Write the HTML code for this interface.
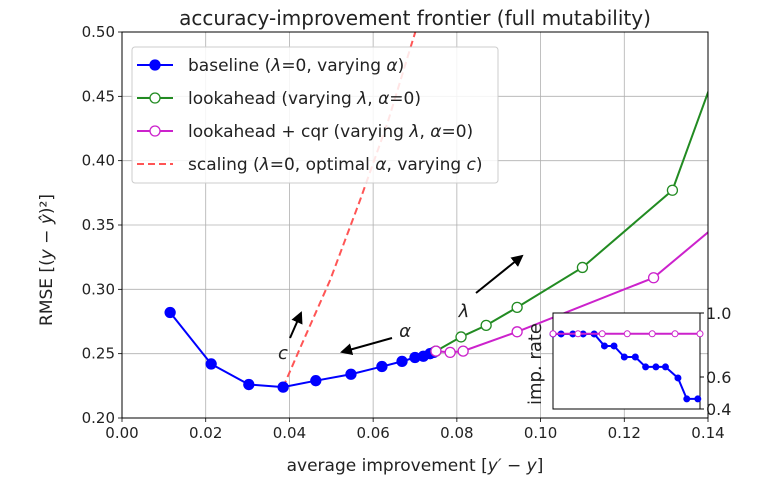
<!DOCTYPE html>
<html><head><meta charset="utf-8"><style>
body{margin:0;background:#fff}
svg{font-family:"DejaVu Sans","Liberation Sans",sans-serif}
</style></head><body>
<svg id="c" width="770" height="498" xmlns="http://www.w3.org/2000/svg"></svg>
<script>
const xTicks=[0,0.02,0.04,0.06,0.08,0.10,0.12,0.14];
const xTickLabels=["0.00","0.02","0.04","0.06","0.08","0.10","0.12","0.14"];
const yTicks=[0.20,0.25,0.30,0.35,0.40,0.45,0.50];
const yTickLabels=["0.20","0.25","0.30","0.35","0.40","0.45","0.50"];
const baseX=[0.0115,0.0213,0.0303,0.0385,0.0463,0.0547,0.0621,0.0669,0.070,0.072,0.0736,0.0745];
const baseY=[0.282,0.242,0.226,0.224,0.229,0.234,0.240,0.244,0.247,0.248,0.250,0.251];
const lookX=[0.075,0.081,0.087,0.0944,0.110,0.1315,0.141];
const lookY=[0.252,0.263,0.272,0.286,0.317,0.377,0.462];
const cqrX=[0.075,0.0784,0.0815,0.0944,0.127,0.141];
const cqrY=[0.252,0.251,0.252,0.267,0.309,0.347];
const scaleX=[0.0385,0.0425,0.0497,0.0569,0.0635,0.0695,0.072];
const scaleY=[0.224,0.254,0.307,0.3695,0.43,0.494,0.52];
const insetBlueX=[0,0.055,0.135,0.205,0.28,0.35,0.415,0.485,0.56,0.63,0.70,0.765,0.85,0.91,0.985];
const insetBlueY=[0.869,0.869,0.869,0.869,0.869,0.794,0.794,0.725,0.725,0.663,0.663,0.663,0.594,0.463,0.463];
const insetMagX=[0,0.17,0.335,0.505,0.675,0.83,1.0];
const insetMagY=[0.87,0.87,0.87,0.87,0.87,0.87,0.87];
const insetYTicks=[0.4,0.6,1.0];
const insetYTickLabels=["0.4","0.6","1.0"];

const S=document.getElementById('c'),NS='http://www.w3.org/2000/svg';
const L=122,R=708,T=32,B=418;
const sx=v=>L+(v-0)/(0.14)*(R-L);
const sy=v=>B-(v-0.2)/(0.3)*(B-T);
function mk(t,a,p){const e=document.createElementNS(NS,t);for(const k in a)e.setAttribute(k,a[k]);(p||S).appendChild(e);return e;}
const defs=mk('defs',{});const cp=mk('clipPath',{id:'cl'},defs);mk('rect',{x:L,y:T,width:R-L,height:B-T},cp);
xTicks.forEach((v,i)=>{
 const g=mk('line',{x1:sx(v),x2:sx(v),y1:T,y2:B,stroke:'#b0b0b0','stroke-width':0.8});
 
 mk('line',{x1:sx(v),x2:sx(v),y1:B,y2:B+4,stroke:'#000','stroke-width':0.8});
 const t=mk('text',{x:sx(v),y:B+20,'text-anchor':'middle','font-size':15,fill:'#222'});t.textContent=xTickLabels[i];
 
});
yTicks.forEach((v,i)=>{
 const g=mk('line',{x1:L,x2:R,y1:sy(v),y2:sy(v),stroke:'#b0b0b0','stroke-width':0.8});
 
 mk('line',{x1:L-4,x2:L,y1:sy(v),y2:sy(v),stroke:'#000','stroke-width':0.8});
 const t=mk('text',{x:L-7,y:sy(v)+5,'text-anchor':'end','font-size':15,fill:'#222'});t.textContent=yTickLabels[i];
 
});
const G=mk('g',{'clip-path':'url(#cl)'});
function series(xs,ys,col,fill,name,r,dash){
 const pts=xs.map((v,i)=>sx(v)+','+sy(ys[i])).join(' ');
 const p=mk('polyline',{points:pts,fill:'none',stroke:col,'stroke-width':2},G);
 if(dash)p.setAttribute('stroke-dasharray',dash);
 
 if(r)xs.forEach((v,i)=>{if(v>0.14)return;const c=mk('circle',{cx:sx(v),cy:sy(ys[i]),r:r,fill:fill,stroke:col,'stroke-width':1.3},G);
 });
}
series(scaleX,scaleY,'#ff5555',null,'scaling',0,'7,4');
series(baseX,baseY,'#0000ff','#0000ff','baseline',5);
series(lookX,lookY,'#228b22','#fff','lookahead',5);
series(cqrX,cqrY,'#cc22cc','#fff','lookahead-cqr',5);
mk('rect',{x:L,y:T,width:R-L,height:B-T,fill:'none',stroke:'#000','stroke-width':1});
const m=mk('marker',{id:'ah',markerWidth:6,markerHeight:6,refX:5,refY:3,orient:'auto',markerUnits:'strokeWidth'},defs);
mk('path',{d:'M0,0 L6,3 L0,6 z',fill:'#000'},m);
[[290,338,301,313,'c-arrow'],[392,338,342,352,'alpha-arrow'],[476,293,522,256,'lambda-arrow']].forEach(a=>{
 const l=mk('line',{x1:a[0],y1:a[1],x2:a[2],y2:a[3],stroke:'#000','stroke-width':2,'marker-end':'url(#ah)'});
 });
[[283,359,'c','c-label'],[405,337,'α','alpha-label'],[464,317,'λ','lambda-label']].forEach(a=>{
 const t=mk('text',{x:a[0],y:a[1],'font-size':18,'font-style':'italic','text-anchor':'middle',fill:'#222'});t.textContent=a[2];
 });
const lg=mk('g',{});
mk('rect',{x:132,y:47,width:366,height:136,rx:3,fill:'#fff','fill-opacity':0.85,stroke:'#ccc'},lg);
const leg=[['#0000ff','#0000ff','',"baseline (<tspan font-style='italic'>λ</tspan>=0, varying <tspan font-style='italic'>α</tspan>)"],
['#228b22','#fff','',"lookahead (varying <tspan font-style='italic'>λ</tspan>, <tspan font-style='italic'>α</tspan>=0)"],
['#cc22cc','#fff','',"lookahead + cqr (varying <tspan font-style='italic'>λ</tspan>, <tspan font-style='italic'>α</tspan>=0)"],
['#ff5555',null,'7,4',"scaling (<tspan font-style='italic'>λ</tspan>=0, optimal <tspan font-style='italic'>α</tspan>, varying <tspan font-style='italic'>c</tspan>)"]];
leg.forEach((e,i)=>{const y=65+i*33;
 const l=mk('line',{x1:137,x2:173,y1:y,y2:y,stroke:e[0],'stroke-width':2},lg);if(e[2])l.setAttribute('stroke-dasharray',e[2]);
 if(e[1])mk('circle',{cx:155,cy:y,r:5,fill:e[1],stroke:e[0],'stroke-width':1.3},lg);
 const t=mk('text',{x:188,y:y+6,'font-size':17,fill:'#222'},lg);t.innerHTML=e[3];
 });
let t=mk('text',{x:415,y:25,'text-anchor':'middle','font-size':20,fill:'#222'});t.textContent='accuracy-improvement frontier (full mutability)';

t=mk('text',{x:415,y:471,'text-anchor':'middle','font-size':17,fill:'#222'});t.innerHTML="average improvement [<tspan font-style='italic'>y′ − y</tspan>]";

t=mk('text',{x:0,y:0,'text-anchor':'middle','font-size':17,fill:'#222',transform:'translate(52,260) rotate(-90)'});t.innerHTML="RMSE [(<tspan font-style='italic'>y − ŷ</tspan>)²]";

const IL=553,IR=700,IT=313,IB=409;
const ix=v=>IL+v*(IR-IL), iy=v=>IB-(v-0.4)/0.6*(IB-IT);
const ig=mk('g',{});
mk('rect',{x:IL,y:IT,width:IR-IL,height:IB-IT,fill:'#fff',stroke:'#000','stroke-width':1},ig);
insetYTicks.forEach((v,i)=>{mk('line',{x1:IR,x2:IR+4,y1:iy(v),y2:iy(v),stroke:'#000'},ig);
 const tt=mk('text',{x:IR+6,y:iy(v)+6,'font-size':16,fill:'#222'},ig);tt.textContent=insetYTickLabels[i];
 });
function iser(xs,ys,col,fill,r,name){mk('polyline',{points:xs.map((v,i)=>ix(v)+','+iy(ys[i])).join(' '),fill:'none',stroke:col,'stroke-width':2},ig);
 xs.forEach((v,i)=>{const c=mk('circle',{cx:ix(v),cy:iy(ys[i]),r:r,fill:fill,stroke:col,'stroke-width':1},ig);
 });}
iser(insetBlueX,insetBlueY,'#0000ff','#0000ff',3,'inset-baseline-point');
iser(insetMagX,insetMagY,'#cc22cc','#fff',3,'inset-cqr-point');
t=mk('text',{x:0,y:0,'text-anchor':'middle','font-size':18,fill:'#222',transform:'translate(541,364) rotate(-90)'},ig);t.textContent='imp. rate';

</script>
</body></html>
